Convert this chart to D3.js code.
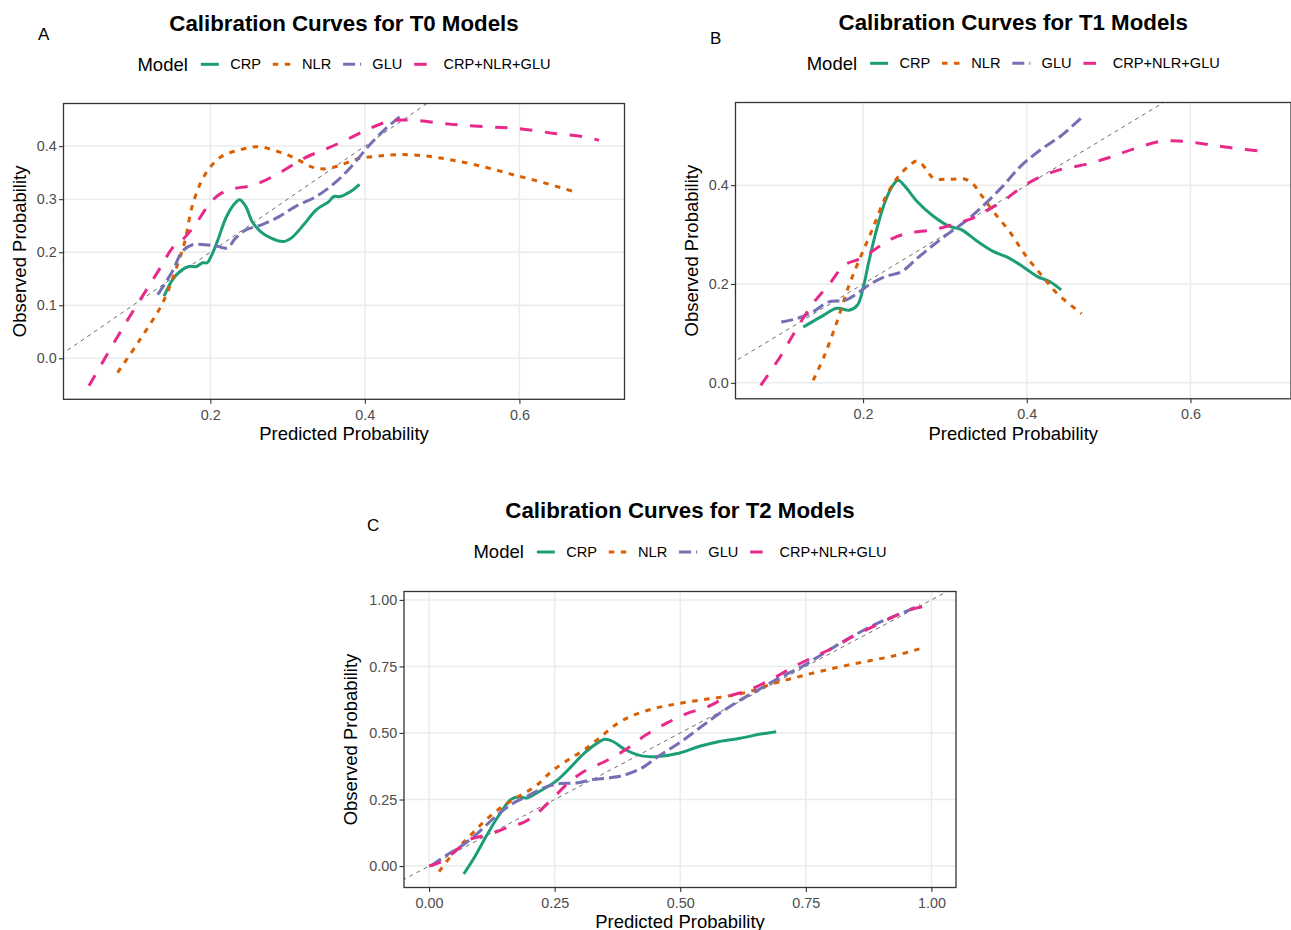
<!DOCTYPE html>
<html><head><meta charset="utf-8">
<script src="https://cdn.jsdelivr.net/npm/d3@7"></script>
<style>body{margin:0;background:#fff} svg{display:block;font-family:"Liberation Sans",Arial,sans-serif}</style>
</head><body><svg id="chart" width="1291" height="930"></svg>
<script>
// ---------- data ----------
const models = ["CRP", "NLR", "GLU", "CRP+NLR+GLU"];
const colors = ["#1B9E77", "#D95F02", "#7570B3", "#E7298A"];
const dashes = [null, "5.5,6.5", "12,5", "12.5,12.5"];

const T0_CRP = [[0.140,0.117],[0.151,0.148],[0.161,0.164],[0.172,0.173],[0.182,0.173],[0.190,0.180],[0.196,0.180],[0.201,0.192],[0.209,0.220],[0.220,0.264],[0.230,0.289],[0.238,0.299],[0.246,0.286],[0.254,0.258],[0.265,0.239],[0.278,0.227],[0.294,0.220],[0.305,0.227],[0.321,0.252],[0.337,0.280],[0.353,0.295],[0.360,0.305],[0.368,0.305],[0.384,0.317],[0.393,0.328]];
const T0_NLR = [[0.080,-0.027],[0.108,0.033],[0.135,0.095],[0.145,0.126],[0.156,0.170],[0.167,0.220],[0.177,0.289],[0.193,0.346],[0.214,0.380],[0.236,0.392],[0.262,0.399],[0.289,0.389],[0.310,0.377],[0.331,0.361],[0.347,0.357],[0.368,0.364],[0.390,0.376],[0.416,0.381],[0.443,0.384],[0.475,0.382],[0.512,0.374],[0.554,0.361],[0.592,0.346],[0.629,0.332],[0.671,0.314]];
const T0_GLU = [[0.132,0.120],[0.151,0.164],[0.164,0.202],[0.177,0.214],[0.193,0.214],[0.209,0.211],[0.222,0.208],[0.233,0.227],[0.246,0.242],[0.267,0.252],[0.289,0.267],[0.310,0.286],[0.337,0.305],[0.363,0.333],[0.384,0.364],[0.406,0.402],[0.427,0.433],[0.445,0.455]];
const T0_ALL = [[0.043,-0.052],[0.087,0.058],[0.135,0.170],[0.151,0.208],[0.163,0.222],[0.177,0.245],[0.198,0.289],[0.209,0.306],[0.225,0.318],[0.257,0.327],[0.289,0.349],[0.321,0.377],[0.352,0.396],[0.379,0.414],[0.406,0.433],[0.432,0.447],[0.459,0.449],[0.512,0.441],[0.565,0.436],[0.600,0.433],[0.645,0.424],[0.682,0.418],[0.703,0.411]];

const T1_CRP = [[0.127,0.113],[0.149,0.134],[0.168,0.151],[0.183,0.147],[0.193,0.157],[0.200,0.191],[0.207,0.245],[0.217,0.313],[0.227,0.367],[0.237,0.401],[0.243,0.410],[0.251,0.398],[0.266,0.367],[0.286,0.337],[0.305,0.317],[0.320,0.310],[0.340,0.286],[0.359,0.266],[0.379,0.252],[0.398,0.232],[0.413,0.215],[0.428,0.205],[0.442,0.188]];
const T1_NLR = [[0.139,0.005],[0.153,0.056],[0.168,0.123],[0.183,0.198],[0.198,0.259],[0.212,0.313],[0.227,0.374],[0.242,0.415],[0.256,0.439],[0.266,0.449],[0.276,0.435],[0.286,0.414],[0.305,0.412],[0.325,0.412],[0.335,0.401],[0.344,0.381],[0.359,0.347],[0.379,0.306],[0.398,0.259],[0.418,0.218],[0.437,0.181],[0.467,0.140]];
const T1_GLU = [[0.100,0.123],[0.119,0.130],[0.139,0.144],[0.158,0.164],[0.178,0.167],[0.193,0.181],[0.207,0.198],[0.227,0.215],[0.247,0.225],[0.266,0.252],[0.286,0.279],[0.305,0.303],[0.325,0.327],[0.344,0.354],[0.369,0.395],[0.393,0.439],[0.418,0.473],[0.442,0.500],[0.469,0.540]];
const T1_ALL = [[0.075,-0.005],[0.100,0.056],[0.119,0.110],[0.139,0.161],[0.158,0.198],[0.178,0.239],[0.198,0.252],[0.217,0.273],[0.237,0.293],[0.256,0.303],[0.286,0.310],[0.315,0.323],[0.335,0.334],[0.354,0.351],[0.374,0.371],[0.393,0.395],[0.418,0.418],[0.442,0.432],[0.472,0.442],[0.501,0.456],[0.530,0.473],[0.565,0.489],[0.589,0.489],[0.619,0.483],[0.648,0.476],[0.692,0.468]];

const T2_CRP = [[0.069,-0.030],[0.090,0.032],[0.114,0.113],[0.138,0.188],[0.163,0.250],[0.179,0.260],[0.195,0.256],[0.220,0.281],[0.252,0.318],[0.277,0.362],[0.309,0.424],[0.334,0.461],[0.350,0.476],[0.366,0.468],[0.391,0.437],[0.423,0.414],[0.456,0.412],[0.497,0.424],[0.537,0.449],[0.578,0.468],[0.619,0.480],[0.660,0.496],[0.691,0.505]];
const T2_NLR = [[0.020,-0.021],[0.049,0.051],[0.081,0.113],[0.114,0.175],[0.147,0.225],[0.179,0.262],[0.212,0.300],[0.244,0.356],[0.277,0.399],[0.309,0.437],[0.342,0.486],[0.375,0.536],[0.407,0.567],[0.448,0.592],[0.489,0.608],[0.537,0.623],[0.586,0.636],[0.635,0.654],[0.684,0.685],[0.733,0.710],[0.782,0.733],[0.831,0.754],[0.879,0.772],[0.928,0.791],[0.976,0.816]];
const T2_GLU = [[0.004,0.001],[0.033,0.039],[0.065,0.076],[0.098,0.126],[0.130,0.182],[0.163,0.231],[0.195,0.262],[0.228,0.294],[0.261,0.310],[0.293,0.312],[0.326,0.325],[0.358,0.331],[0.391,0.343],[0.423,0.368],[0.456,0.412],[0.497,0.461],[0.537,0.517],[0.578,0.573],[0.619,0.623],[0.660,0.667],[0.700,0.710],[0.741,0.748],[0.782,0.795],[0.822,0.841],[0.863,0.884],[0.904,0.922],[0.945,0.953],[0.977,0.981]];
const T2_ALL = [[0.000,0.000],[0.024,0.016],[0.049,0.051],[0.081,0.100],[0.106,0.113],[0.130,0.126],[0.163,0.150],[0.187,0.163],[0.212,0.194],[0.244,0.250],[0.277,0.312],[0.309,0.356],[0.350,0.393],[0.391,0.437],[0.432,0.493],[0.472,0.536],[0.513,0.573],[0.554,0.598],[0.594,0.636],[0.635,0.660],[0.684,0.704],[0.725,0.748],[0.765,0.785],[0.806,0.822],[0.847,0.866],[0.888,0.903],[0.928,0.940],[0.961,0.965],[0.999,0.981]];

const T0_xTicks = [0.2, 0.4, 0.6], T0_yTicks = [0.0, 0.1, 0.2, 0.3, 0.4];
const T1_xTicks = [0.2, 0.4, 0.6], T1_yTicks = [0.0, 0.2, 0.4];
const T2_xTicks = [0, 0.25, 0.5, 0.75, 1], T2_yTicks = [0, 0.25, 0.5, 0.75, 1];
const titles = ["Calibration Curves for T0 Models", "Calibration Curves for T1 Models", "Calibration Curves for T2 Models"];
const tags = ["A", "B", "C"];

// ---------- layout ----------
const panels = [
  { title: titles[0], tag: tags[0], series: [T0_CRP, T0_NLR, T0_GLU, T0_ALL], xTicks: T0_xTicks, yTicks: T0_yTicks, fmt: d3.format(".1f"),
    box: {l: 63.5, r: 624.5, t: 103.5, b: 399.3}, titleY: 30.7, legendY: 64.3, tagX: 38, tagY: 39.5, xTitleY: 440, yTitleX: 26 },
  { title: titles[1], tag: tags[1], series: [T1_CRP, T1_NLR, T1_GLU, T1_ALL], xTicks: T1_xTicks, yTicks: T1_yTicks, fmt: d3.format(".1f"),
    box: {l: 735.5, r: 1291, t: 102.5, b: 398.8}, titleY: 29.5, legendY: 63.3, tagX: 710, tagY: 44, xTitleY: 440, yTitleX: 698 },
  { title: titles[2], tag: tags[2], series: [T2_CRP, T2_NLR, T2_GLU, T2_ALL], xTicks: T2_xTicks, yTicks: T2_yTicks, fmt: d3.format(".2f"),
    box: {l: 404, r: 956, t: 591.5, b: 887.5}, titleY: 518, legendY: 552, tagX: 367, tagY: 531, xTitleY: 927.5, yTitleX: 357 }
];

const svg = d3.select("#chart");
const TICK_FS = 14.4, AXT_FS = 18.5, TITLE_FS = 22.3, LEG_FS = 14.6;

panels.forEach((p, pi) => {
  const all = p.series.flat();
  const xe = d3.extent(all, d => d[0]), ye = d3.extent(all, d => d[1]);
  const xp = (xe[1] - xe[0]) * 0.05, yp = (ye[1] - ye[0]) * 0.05;
  const x = d3.scaleLinear().domain([xe[0] - xp, xe[1] + xp]).range([p.box.l, p.box.r]);
  const y = d3.scaleLinear().domain([ye[0] - yp, ye[1] + yp]).range([p.box.b, p.box.t]);
  const g = svg.append("g");
  const cx = (p.box.l + p.box.r) / 2, cy = (p.box.t + p.box.b) / 2;

  const clipId = "clip" + pi;
  svg.append("clipPath").attr("id", clipId).append("rect")
    .attr("x", p.box.l).attr("y", p.box.t).attr("width", p.box.r - p.box.l).attr("height", p.box.b - p.box.t);

  // grid
  const grid = g.append("g").attr("clip-path", `url(#${clipId})`);
  grid.selectAll(".gx").data(p.xTicks).join("line")
    .attr("x1", d => x(d)).attr("x2", d => x(d)).attr("y1", p.box.t).attr("y2", p.box.b)
    .attr("stroke", "#EBEBEB").attr("stroke-width", 1.5);
  grid.selectAll(".gy").data(p.yTicks).join("line")
    .attr("y1", d => y(d)).attr("y2", d => y(d)).attr("x1", p.box.l).attr("x2", p.box.r)
    .attr("stroke", "#EBEBEB").attr("stroke-width", 1.5);

  // diagonal reference
  const dlo = Math.min(x.domain()[0], y.domain()[0]) - 1, dhi = Math.max(x.domain()[1], y.domain()[1]) + 1;
  grid.append("line").attr("x1", x(dlo)).attr("y1", y(dlo)).attr("x2", x(dhi)).attr("y2", y(dhi))
    .attr("stroke", "#6E6E6E").attr("stroke-width", 1).attr("stroke-dasharray", "4,4");

  // series
  const line = d3.line().x(d => x(d[0])).y(d => y(d[1])).curve(d3.curveCatmullRom.alpha(0.5));
  p.series.forEach((s, i) => {
    g.append("path").attr("d", line(s)).attr("fill", "none")
      .attr("stroke", colors[i]).attr("stroke-width", 3)
      .attr("stroke-dasharray", dashes[i]).attr("stroke-linecap", "butt").attr("stroke-linejoin", "round");
  });

  // border
  g.append("rect").attr("x", p.box.l).attr("y", p.box.t).attr("width", p.box.r - p.box.l).attr("height", p.box.b - p.box.t)
    .attr("fill", "none").attr("stroke", "#333333").attr("stroke-width", 1.3);

  // axes
  const ax = g.append("g").attr("transform", `translate(0,${p.box.b})`)
    .call(d3.axisBottom(x).tickValues(p.xTicks).tickFormat(p.fmt).tickSize(4.5).tickPadding(5.5));
  const ay = g.append("g").attr("transform", `translate(${p.box.l},0)`)
    .call(d3.axisLeft(y).tickValues(p.yTicks).tickFormat(p.fmt).tickSize(4.5).tickPadding(2.2));
  [ax, ay].forEach(a => {
    a.select(".domain").remove();
    a.selectAll(".tick line").attr("stroke", "#333333").attr("stroke-width", 1.1);
    a.selectAll(".tick text").attr("fill", "#4D4D4D").style("font-size", TICK_FS + "px")
      .style("font-family", '"Liberation Sans", Arial, sans-serif');
  });

  // axis titles
  g.append("text").attr("x", cx).attr("y", p.xTitleY).attr("text-anchor", "middle")
    .style("font-size", AXT_FS + "px").attr("fill", "#000").text("Predicted Probability");
  g.append("text").attr("transform", `translate(${p.yTitleX},${cy}) rotate(-90)`).attr("text-anchor", "middle")
    .style("font-size", AXT_FS + "px").attr("fill", "#000").text("Observed Probability");

  // title
  g.append("text").attr("x", cx).attr("y", p.titleY).attr("text-anchor", "middle")
    .style("font-size", TITLE_FS + "px").style("font-weight", "bold").attr("fill", "#000").text(p.title);

  // tag
  g.append("text").attr("x", p.tagX).attr("y", p.tagY)
    .style("font-size", "17px").attr("fill", "#000").text(p.tag);

  // legend
  const lg = g.append("g");
  const KEY = 18;
  const mt = lg.append("text").attr("y", p.legendY + 6.4).style("font-size", AXT_FS + "px").attr("fill", "#000").text("Model");
  let cur = mt.node().getComputedTextLength() + 13;
  models.forEach((m, i) => {
    lg.append("line").attr("x1", cur).attr("x2", cur + KEY).attr("y1", p.legendY).attr("y2", p.legendY)
      .attr("stroke", colors[i]).attr("stroke-width", 3).attr("stroke-dasharray", dashes[i]);
    cur += KEY + 11.3;
    const t = lg.append("text").attr("x", cur).attr("y", p.legendY + 5.1).style("font-size", LEG_FS + "px").attr("fill", "#000").text(m);
    cur += t.node().getComputedTextLength();
    if (i < models.length - 1) cur += 11.8;
  });
  lg.attr("transform", `translate(${cx - cur / 2},0)`);
});
</script>
</body></html>
